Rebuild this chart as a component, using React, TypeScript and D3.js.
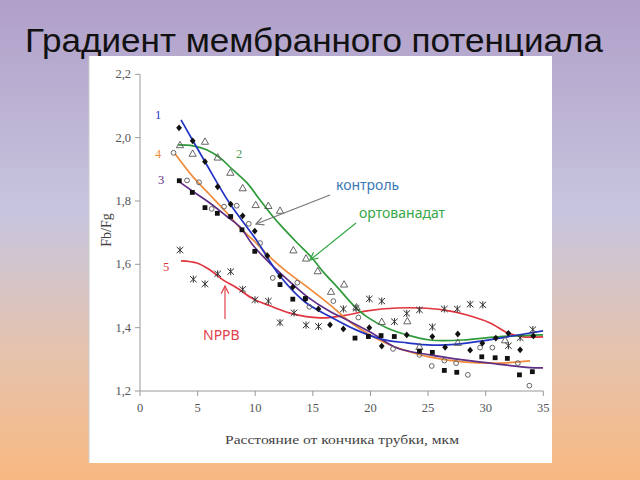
import React from "react";
import * as d3 from "d3";

// ---------- data ----------
const titleText = "Градиент мембранного потенциала";
const xTitle = "Расстояние от кончика трубки, мкм";
const yTitle = "Fb/Fg";
const xTicks = [0, 5, 10, 15, 20, 25, 30, 35];
const yTicks = [1.2, 1.4, 1.6, 1.8, 2.0, 2.2];

// series 1 (control, filled diamonds)
const s1Points: [number, number][] = [
  [3.39, 2.031], [4.57, 1.99], [5.64, 1.924], [6.74, 1.845], [7.87, 1.79], [8.91, 1.753],
  [9.96, 1.705], [11.05, 1.627], [12.15, 1.563], [13.26, 1.528], [14.35, 1.49], [15.48, 1.459],
  [16.49, 1.409], [17.65, 1.396], [19.9, 1.4], [20.98, 1.342], [23.15, 1.377], [25.37, 1.372],
  [26.48, 1.338], [27.58, 1.38], [28.65, 1.329], [29.71, 1.351], [30.88, 1.367], [31.97, 1.382],
  [32.99, 1.33], [34.14, 1.374],
];
// series 2 (orthovanadate, open triangles)
const s2Points: [number, number][] = [
  [3.47, 1.977], [4.57, 1.95], [5.64, 1.988], [6.74, 1.938], [7.84, 1.89], [8.91, 1.841],
  [10.04, 1.788], [11.14, 1.785], [12.15, 1.77], [13.31, 1.645], [14.41, 1.619], [15.42, 1.579],
  [16.58, 1.514], [17.71, 1.537], [18.79, 1.465], [20.98, 1.419], [23.2, 1.421], [24.25, 1.34],
  [27.58, 1.353], [31.68, 1.361],
];
// series 3 (filled squares)
const s3Points: [number, number][] = [
  [3.41, 1.864], [4.54, 1.827], [5.64, 1.779], [6.71, 1.761], [7.87, 1.751], [8.85, 1.709],
  [9.96, 1.641], [12.15, 1.536], [13.26, 1.49], [14.35, 1.492], [18.66, 1.367], [19.82, 1.372],
  [20.92, 1.375], [22.07, 1.372], [24.25, 1.326], [25.37, 1.322], [26.41, 1.265], [27.49, 1.259],
  [29.66, 1.308], [30.82, 1.305], [31.88, 1.303], [32.93, 1.251], [34.05, 1.261],
];
// series 4 (open circles)
const s4Points: [number, number][] = [
  [2.91, 1.952], [4.08, 1.865], [5.12, 1.859], [6.22, 1.775], [7.29, 1.782], [8.39, 1.785],
  [9.44, 1.728], [10.42, 1.667], [11.52, 1.557], [13.65, 1.542], [14.7, 1.466], [16.78, 1.484],
  [18.95, 1.432], [21.96, 1.333], [24.25, 1.314], [25.32, 1.279], [26.41, 1.296], [27.43, 1.288],
  [28.45, 1.251], [29.51, 1.337], [30.58, 1.337], [32.79, 1.288], [33.79, 1.217],
];
// series 5 (NPPB, asterisks)
const s5Points: [number, number][] = [
  [3.47, 1.645], [4.63, 1.553], [5.64, 1.538], [6.74, 1.57], [7.87, 1.577], [8.91, 1.521],
  [9.98, 1.488], [11.14, 1.484], [12.15, 1.416], [13.37, 1.447], [14.41, 1.408], [15.49, 1.404],
  [17.65, 1.459], [18.75, 1.461], [19.9, 1.491], [20.98, 1.484], [22.08, 1.419], [23.15, 1.445],
  [24.25, 1.456], [25.37, 1.402], [26.41, 1.459], [27.54, 1.459], [28.65, 1.474], [29.75, 1.472],
  [31.97, 1.343], [32.99, 1.368], [34.09, 1.394],
];

// fitted trend lines
const fit1: [number, number][] = [
  [3.56, 2.056], [5.64, 1.924], [7.81, 1.791], [9.98, 1.683], [12.15, 1.563], [14.32, 1.481],
  [16.49, 1.435], [18.75, 1.393], [20.92, 1.364], [23.18, 1.352], [25.35, 1.345], [27.52, 1.348],
  [29.77, 1.358], [31.86, 1.371], [34.98, 1.39],
];
const fit2: [number, number][] = [
  [3.3, 1.977], [4.6, 1.974], [5.82, 1.961], [6.94, 1.936], [8.07, 1.898], [9.29, 1.857],
  [10.42, 1.803], [11.55, 1.75], [12.41, 1.715], [13.63, 1.668], [14.93, 1.62], [15.89, 1.576],
  [17.1, 1.529], [18.49, 1.472], [19.7, 1.434], [21.44, 1.399], [23.18, 1.377], [25.17, 1.361],
  [28.04, 1.361], [30.99, 1.371], [34.98, 1.377],
];
const fit3: [number, number][] = [
  [3.39, 1.861], [4.6, 1.83], [6.08, 1.793], [7.55, 1.751], [8.68, 1.718], [9.81, 1.66],
  [11.28, 1.603], [12.76, 1.553], [14.5, 1.498], [16.49, 1.451], [17.97, 1.424], [19.97, 1.386],
  [22.31, 1.336], [25.17, 1.314], [28.04, 1.298], [30.99, 1.285], [33.85, 1.274], [34.98, 1.273],
];
const fit4: [number, number][] = [
  [3.04, 1.949], [4.6, 1.876], [6.08, 1.819], [7.55, 1.762], [8.68, 1.715], [9.81, 1.677],
  [11.28, 1.623], [12.76, 1.576], [14.5, 1.529], [16.49, 1.472], [18.23, 1.418], [19.97, 1.377],
  [21.7, 1.345], [23.44, 1.323], [25.17, 1.307], [28.04, 1.292], [30.99, 1.288], [33.85, 1.295],
];
const fit5: [number, number][] = [
  [3.56, 1.611], [4.95, 1.604], [6.08, 1.582], [7.2, 1.551], [8.42, 1.525], [9.81, 1.491],
  [11.28, 1.469], [13.02, 1.446], [15.63, 1.431], [17.97, 1.44], [19.7, 1.453], [22.31, 1.462],
  [24.31, 1.462], [26.3, 1.456], [28.39, 1.44], [30.38, 1.415], [31.94, 1.383], [33.25, 1.371],
  [34.98, 1.371],
];

const seriesLabels = ["1", "2", "3", "4", "5"];
const annotations = ["контроль", "ортованадат", "NPPB"];

// ---------- styles ----------
const C1 = "#2233c4";
const C2 = "#2f9a3a";
const C3 = "#5e2d86";
const C4 = "#ef8a3a";
const C5 = "#e0343f";

export default function App() {
  const x = d3.scaleLinear().domain([0, 35]).range([140, 543.3]);
  const y = d3.scaleLinear().domain([1.2, 2.2]).range([391, 74.3]);
  const line = d3
    .line<[number, number]>()
    .x((d) => x(d[0]))
    .y((d) => y(d[1]))
    .curve(d3.curveCatmullRom.alpha(0.5));
  const fmt = (v: number) => d3.format(".1f")(v).replace(".", ",");

  const serif = "'Liberation Serif', 'DejaVu Serif', serif";
  const sans = "'Liberation Sans', Arial, sans-serif";
  const labelSans = "'Noto Sans', 'Open Sans', sans-serif";

  const diamond = "M0,-3.4L2.9,0L0,3.4L-2.9,0Z";
  const tri = "M0,-3.6L3.6,2.8L-3.6,2.8Z";
  const star = "M-3.3,-3.1L3.3,3.1M-3.3,3.1L3.3,-3.1M0,-3.6L0,3.6";

  return (
    <svg
      width={640}
      height={480}
      style={{ position: "fixed", left: 0, top: 0 }}
      xmlns="http://www.w3.org/2000/svg"
    >
      <defs>
        <linearGradient id="bg" x1="0" y1="0" x2="0" y2="1">
          <stop offset="0%" stopColor="#b09fc9" />
          <stop offset="45%" stopColor="#c8c6de" />
          <stop offset="75%" stopColor="#e7c3ab" />
          <stop offset="100%" stopColor="#f8b881" />
        </linearGradient>
        <marker id="arrGray" viewBox="0 0 10 10" refX="9" refY="5" markerWidth="8" markerHeight="8" orient="auto">
          <path d="M1,1L9,5L1,9" fill="none" stroke="#777" strokeWidth="1.3" />
        </marker>
        <marker id="arrGreen" viewBox="0 0 10 10" refX="9" refY="5" markerWidth="8" markerHeight="8" orient="auto">
          <path d="M1,1L9,5L1,9" fill="none" stroke="#35a847" strokeWidth="1.3" />
        </marker>
        <marker id="arrRed" viewBox="0 0 10 10" refX="9" refY="5" markerWidth="8" markerHeight="8" orient="auto">
          <path d="M1,1L9,5L1,9" fill="none" stroke="#e0404c" strokeWidth="1.3" />
        </marker>
      </defs>
      <rect x={0} y={0} width={640} height={480} fill="url(#bg)" />
      <text
        x={25}
        y={52}
        fontFamily={sans}
        fontSize={33}
        fill="#111"
        textLength={578}
        lengthAdjust="spacingAndGlyphs"
      >
        {titleText}
      </text>
      <rect x={89} y={56} width={463} height={407} fill="#fff" />
      <line x1={89} y1={56} x2={89} y2={463} stroke="#ccc" strokeWidth={1} />

      {/* axes */}
      <line x1={x(0)} y1={y(1.2)} x2={x(35)} y2={y(1.2)} stroke="#999" />
      <line x1={x(0)} y1={y(1.2)} x2={x(0)} y2={y(2.2)} stroke="#999" />
      {yTicks.map((t) => (
        <g key={"y" + t}>
          <line x1={x(0) - 5} x2={x(0)} y1={y(t)} y2={y(t)} stroke="#999" />
          <text x={x(0) - 9} y={y(t) + 4} textAnchor="end" fontFamily={serif} fontSize={12.5} fill="#555">
            {fmt(t)}
          </text>
        </g>
      ))}
      {xTicks.map((t) => (
        <g key={"x" + t}>
          <line x1={x(t)} x2={x(t)} y1={y(1.2)} y2={y(1.2) + 5} stroke="#999" />
          <text x={x(t)} y={y(1.2) + 21} textAnchor="middle" fontFamily={serif} fontSize={12.5} fill="#555">
            {t}
          </text>
        </g>
      ))}
      <text
        x={342}
        y={444}
        textAnchor="middle"
        fontFamily={serif}
        fontSize={13.5}
        fill="#444"
        textLength={234}
        lengthAdjust="spacingAndGlyphs"
      >
        {xTitle}
      </text>
      <text
        transform="translate(111,230) rotate(-90)"
        textAnchor="middle"
        fontFamily={serif}
        fontSize={14}
        fill="#444"
      >
        {yTitle}
      </text>

      {/* fitted lines */}
      <path d={line(fit5) || ""} fill="none" stroke={C5} strokeWidth={1.7} />
      <path d={line(fit2) || ""} fill="none" stroke={C2} strokeWidth={1.7} />
      <path d={line(fit4) || ""} fill="none" stroke={C4} strokeWidth={1.7} />
      <path d={line(fit3) || ""} fill="none" stroke={C3} strokeWidth={1.7} />
      <path d={line(fit1) || ""} fill="none" stroke={C1} strokeWidth={1.7} />

      {/* markers */}
      {s4Points.map((d, i) => (
        <circle key={"c" + i} cx={x(d[0])} cy={y(d[1])} r={2.4} fill="none" stroke="#666" strokeWidth={1} />
      ))}
      {s2Points.map((d, i) => (
        <path key={"t" + i} d={tri} transform={`translate(${x(d[0])},${y(d[1])})`} fill="none" stroke="#555" strokeWidth={0.9} />
      ))}
      {s5Points.map((d, i) => (
        <path key={"a" + i} d={star} transform={`translate(${x(d[0])},${y(d[1])})`} fill="none" stroke="#333" strokeWidth={1} />
      ))}
      {s3Points.map((d, i) => (
        <rect key={"s" + i} x={x(d[0]) - 2.4} y={y(d[1]) - 2.4} width={4.8} height={4.8} fill="#111" />
      ))}
      {s1Points.map((d, i) => (
        <path key={"d" + i} d={diamond} transform={`translate(${x(d[0])},${y(d[1])})`} fill="#111" />
      ))}

      {/* series number labels */}
      <text x={158} y={119} textAnchor="middle" fontFamily={serif} fontSize={12.5} fill={C1}>{seriesLabels[0]}</text>
      <text x={239} y={158} textAnchor="middle" fontFamily={serif} fontSize={12.5} fill="#4f9a55">{seriesLabels[1]}</text>
      <text x={161} y={184} textAnchor="middle" fontFamily={serif} fontSize={12.5} fill={C3}>{seriesLabels[2]}</text>
      <text x={158} y={158} textAnchor="middle" fontFamily={serif} fontSize={12.5} fill={C4}>{seriesLabels[3]}</text>
      <text x={166} y={271} textAnchor="middle" fontFamily={serif} fontSize={12.5} fill={C5}>{seriesLabels[4]}</text>

      {/* annotations */}
      <text x={336} y={190} fontFamily={labelSans} fontSize={14} fill="#3a78b5">{annotations[0]}</text>
      <line x1={330} y1={195} x2={256} y2={224} stroke="#777" strokeWidth={1.2} markerEnd="url(#arrGray)" />
      <text x={359} y={218} fontFamily={labelSans} fontSize={14} fill="#35a847">{annotations[1]}</text>
      <line x1={356} y1={223} x2={310} y2={260} stroke="#35a847" strokeWidth={1.2} markerEnd="url(#arrGreen)" />
      <text x={203} y={340} fontFamily={labelSans} fontSize={14} fill="#e0404c">{annotations[2]}</text>
      <line x1={225} y1={319} x2={225} y2={286} stroke="#e0404c" strokeWidth={1.2} markerEnd="url(#arrRed)" />
    </svg>
  );
}
